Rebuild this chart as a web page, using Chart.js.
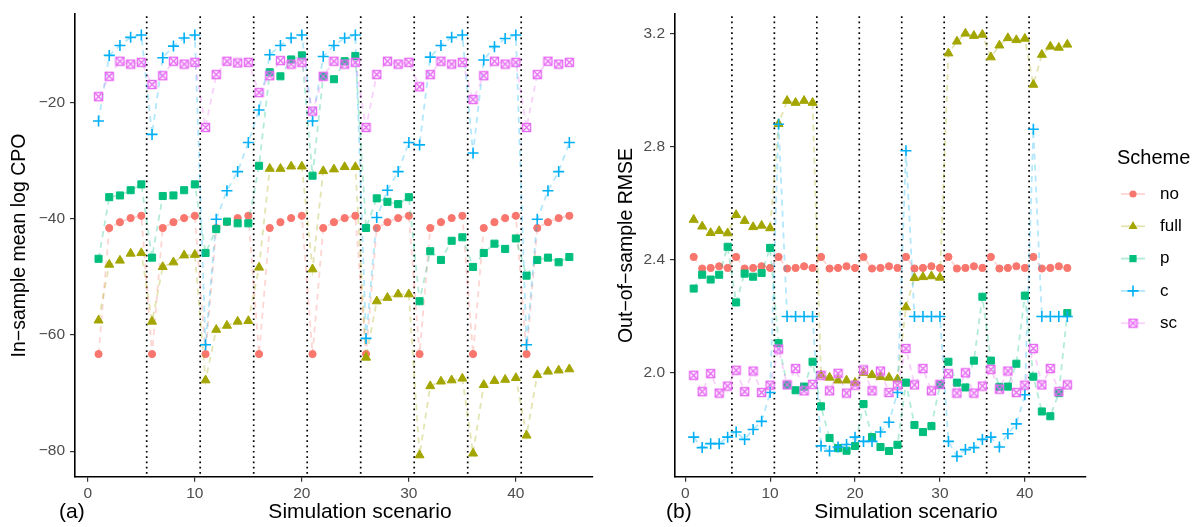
<!DOCTYPE html>
<html>
<head>
<meta charset="utf-8">
<script src="https://cdn.jsdelivr.net/npm/chart.js@4.4.0/dist/chart.umd.min.js"></script>
<style>
  body { margin: 0; background: #fff; }
  #wrap { position: relative; width: 1202px; height: 527px; }
  #left { position: absolute; left: 0; top: 0; }
  #right { position: absolute; left: 600px; top: 0; }
</style>
</head>
<body>
<div id="wrap">
  <canvas id="left" width="600" height="527"></canvas>
  <canvas id="right" width="602" height="527"></canvas>
</div>
<script>
// scenario numbers on the x axis
const scenarios = [1, 2, 3, 4, 5, 6, 7, 8, 9, 10, 11, 12, 13, 14, 15, 16, 17, 18, 19, 20,
  21, 22, 23, 24, 25, 26, 27, 28, 29, 30, 31, 32, 33, 34, 35, 36, 37, 38, 39, 40,
  41, 42, 43, 44, 45];
const schemes = ['no', 'full', 'p', 'c', 'sc'];
const schemeColors = ['#F8766D', '#A3A500', '#00BF7D', '#00B0F6', '#E76BF3'];
const xTicks = [0, 10, 20, 30, 40];
const cpoTicks = [-80, -60, -40, -20];
const rmseTicks = [2.0, 2.4, 2.8, 3.2];
const dividers = [5.5, 10.5, 15.5, 20.5, 25.5, 30.5, 35.5, 40.5];

// (a) in-sample mean log CPO
const cpoNo = [
  -63.3, -41.6, -40.6, -39.9, -39.5, -63.3, -41.6, -40.6, -39.9, -39.5,
  -63.3, -41.6, -40.6, -39.9, -39.5, -63.3, -41.6, -40.6, -39.9, -39.5,
  -63.3, -41.6, -40.6, -39.9, -39.5, -63.3, -41.6, -40.6, -39.9, -39.5,
  -63.3, -41.6, -40.6, -39.9, -39.5, -63.3, -41.6, -40.6, -39.9, -39.5,
  -63.3, -41.6, -40.6, -39.9, -39.5];
const cpoFull = [
  -57.5, -47.9, -47.2, -46.0, -45.9, -57.7, -48.3, -47.5, -46.3, -46.2,
  -67.8, -59.1, -58.4, -57.7, -57.6, -48.4, -31.4, -31.4, -31.0, -31.0,
  -48.7, -31.8, -31.5, -31.1, -31.1, -63.9, -54.2, -53.6, -53.0, -53.0,
  -80.7, -68.8, -68.0, -67.8, -67.5, -80.4, -68.6, -67.9, -67.7, -67.4,
  -77.3, -66.9, -66.3, -66.1, -65.9];
const cpoP = [
  -46.9, -36.3, -36.0, -35.1, -34.1, -46.7, -36.1, -36.0, -35.1, -34.1,
  -45.9, -41.8, -40.5, -40.8, -40.8, -30.9, -14.8, -15.5, -12.6, -11.9,
  -32.6, -15.5, -16.0, -12.9, -12.0, -41.6, -36.5, -37.1, -37.5, -36.3,
  -54.2, -45.6, -47.1, -43.8, -43.2, -48.3, -45.9, -44.3, -45.2, -43.4,
  -49.8, -47.1, -46.7, -47.5, -46.6];
const cpoC = [
  -23.2, -11.9, -10.2, -8.8, -8.4, -25.5, -12.3, -10.3, -8.9, -8.4,
  -61.7, -40.1, -35.2, -31.9, -26.9, -21.3, -11.8, -10.2, -8.9, -8.4,
  -23.2, -12.1, -10.2, -8.9, -8.4, -60.6, -39.8, -35.1, -31.9, -26.9,
  -27.3, -12.2, -10.2, -8.8, -8.4, -28.7, -12.7, -10.4, -9.0, -8.4,
  -61.7, -40.1, -35.2, -31.9, -26.9];
const cpoSc = [
  -19.0, -15.5, -12.9, -13.4, -13.1, -16.9, -15.4, -12.9, -13.4, -13.1,
  -24.3, -15.2, -12.9, -13.2, -13.1, -18.3, -15.4, -12.8, -13.4, -13.1,
  -21.5, -15.5, -12.9, -13.4, -13.1, -24.3, -15.2, -12.9, -13.4, -13.1,
  -17.3, -15.2, -12.9, -13.4, -13.1, -19.5, -15.4, -12.9, -13.4, -13.1,
  -24.3, -15.2, -12.9, -13.4, -13.1];

// (b) out-of-sample RMSE
const rmseNo = [
  2.411, 2.370, 2.372, 2.378, 2.372, 2.411, 2.370, 2.372, 2.378, 2.372,
  2.411, 2.370, 2.372, 2.378, 2.372, 2.411, 2.370, 2.372, 2.378, 2.372,
  2.411, 2.370, 2.372, 2.378, 2.372, 2.411, 2.370, 2.372, 2.378, 2.372,
  2.411, 2.370, 2.372, 2.378, 2.372, 2.411, 2.370, 2.372, 2.378, 2.372,
  2.411, 2.370, 2.372, 2.378, 2.372];
const rmseFull = [
  2.543, 2.519, 2.496, 2.503, 2.495, 2.560, 2.539, 2.517, 2.522, 2.513,
  2.882, 2.964, 2.957, 2.964, 2.957, 1.992, 1.984, 1.974, 1.974, 1.966,
  2.001, 1.993, 1.986, 1.984, 1.978, 2.233, 2.337, 2.340, 2.343, 2.338,
  3.132, 3.174, 3.202, 3.194, 3.198, 3.118, 3.160, 3.186, 3.179, 3.184,
  3.021, 3.127, 3.156, 3.152, 3.163];
const rmseP = [
  2.299, 2.348, 2.331, 2.348, 2.447, 2.250, 2.352, 2.341, 2.354, 2.443,
  2.106, 1.958, 1.939, 1.952, 2.040, 1.882, 1.770, 1.734, 1.725, 1.742,
  1.890, 1.773, 1.738, 1.724, 1.746, 1.966, 1.816, 1.791, 1.812, 1.958,
  2.040, 1.966, 1.949, 2.044, 2.270, 2.044, 1.951, 1.952, 2.033, 2.274,
  1.987, 1.864, 1.847, 1.929, 2.212];
const rmseC = [
  1.773, 1.736, 1.750, 1.750, 1.773, 1.791, 1.765, 1.800, 1.829, 1.931,
  2.881, 2.200, 2.200, 2.200, 2.200, 1.742, 1.724, 1.738, 1.747, 1.773,
  1.758, 1.758, 1.791, 1.826, 1.931, 2.787, 2.200, 2.200, 2.200, 2.200,
  1.758, 1.705, 1.729, 1.736, 1.765, 1.773, 1.738, 1.785, 1.820, 1.923,
  2.863, 2.200, 2.200, 2.200, 2.200];
const rmseSc = [
  1.992, 1.934, 1.998, 1.929, 1.954, 2.010, 1.934, 2.007, 1.931, 1.957,
  2.085, 1.958, 2.016, 1.937, 1.960, 1.992, 1.937, 1.999, 1.929, 1.957,
  2.011, 1.937, 2.007, 1.931, 1.957, 2.087, 1.958, 2.016, 1.937, 1.960,
  1.998, 1.929, 2.001, 1.929, 1.954, 2.013, 1.943, 2.007, 1.931, 1.957,
  2.087, 1.958, 2.016, 1.934, 1.958];

const FONT = '"Liberation Sans", Arial, Helvetica, sans-serif';
Chart.defaults.font.family = FONT;

// square with a cross inside (ggplot shape 7), not built into Chart.js
function squareCross(color) {
  const c = document.createElement('canvas');
  c.width = 11;
  c.height = 11;
  const g = c.getContext('2d');
  g.strokeStyle = color;
  g.lineWidth = 1.4;
  g.strokeRect(1.5, 1.5, 8, 8);
  g.beginPath();
  g.moveTo(1.5, 1.5); g.lineTo(9.5, 9.5);
  g.moveTo(9.5, 1.5); g.lineTo(1.5, 9.5);
  g.stroke();
  return c;
}

const markers = [
  { pointStyle: 'circle', radius: 3.6, borderWidth: 1 },
  { pointStyle: 'triangle', radius: 5.2, borderWidth: 1 },
  { pointStyle: 'rect', radius: 5, borderWidth: 1 },
  { pointStyle: 'cross', radius: 5.5, borderWidth: 1.6 },
  { pointStyle: squareCross(schemeColors[4]), radius: 5, borderWidth: 1 }
];

function fade(hex, a) {
  const n = parseInt(hex.slice(1), 16);
  return `rgba(${n >> 16}, ${(n >> 8) & 255}, ${n & 255}, ${a})`;
}

function makeDatasets(seriesList) {
  return seriesList.map((values, i) => ({
    label: schemes[i],
    data: values.map((v, j) => ({ x: scenarios[j], y: v })),
    showLine: true,
    borderColor: fade(schemeColors[i], 0.3),
    borderWidth: 1.8,
    borderDash: [6, 5],
    tension: 0,
    pointStyle: markers[i].pointStyle,
    pointRadius: markers[i].radius,
    pointBorderWidth: markers[i].borderWidth,
    pointBackgroundColor: schemeColors[i],
    pointBorderColor: schemeColors[i],
    order: 5 - i
  }));
}

// dotted separators between scenario groups, x title and panel tag
const panelDecor = {
  id: 'panelDecor',
  beforeDatasetsDraw(chart) {
    const { ctx, chartArea, scales } = chart;
    ctx.save();
    ctx.strokeStyle = '#000';
    ctx.lineWidth = 1.7;
    ctx.setLineDash([1.7, 3.6]);
    dividers.forEach(v => {
      const x = scales.x.getPixelForValue(v);
      ctx.beginPath();
      ctx.moveTo(x, chartArea.top + 2);
      ctx.lineTo(x, chartArea.bottom);
      ctx.stroke();
    });
    ctx.restore();
  },
  afterDraw(chart, args, opts) {
    const ctx = chart.ctx;
    ctx.save();
    ctx.fillStyle = '#000';
    ctx.textBaseline = 'alphabetic';
    ctx.font = '21px ' + FONT;
    ctx.textAlign = 'center';
    ctx.fillText(opts.title, opts.titleX, 518);
    ctx.textAlign = 'left';
    ctx.fillText(opts.tag, opts.tagX, 518);
    ctx.restore();
  }
};

function drawKey(ctx, i, x, y) {
  const col = schemeColors[i];
  ctx.save();
  ctx.strokeStyle = fade(col, 0.3);
  ctx.lineWidth = 1.8;
  ctx.beginPath();
  ctx.moveTo(x - 12, y);
  ctx.lineTo(x + 12, y);
  ctx.stroke();
  ctx.fillStyle = col;
  ctx.strokeStyle = col;
  ctx.beginPath();
  if (i === 0) {
    ctx.arc(x, y, 3.6, 0, Math.PI * 2);
    ctx.fill();
  } else if (i === 1) {
    const r = 5.2;
    ctx.moveTo(x, y - r);
    ctx.lineTo(x + r * Math.sin(Math.PI / 3), y + r / 2);
    ctx.lineTo(x - r * Math.sin(Math.PI / 3), y + r / 2);
    ctx.closePath();
    ctx.fill();
  } else if (i === 2) {
    ctx.fillRect(x - 3.6, y - 3.6, 7.2, 7.2);
  } else if (i === 3) {
    ctx.lineWidth = 1.6;
    ctx.moveTo(x - 5.5, y); ctx.lineTo(x + 5.5, y);
    ctx.moveTo(x, y - 5.5); ctx.lineTo(x, y + 5.5);
    ctx.stroke();
  } else {
    ctx.drawImage(markers[4].pointStyle, x - 5.5, y - 5.5);
  }
  ctx.restore();
}

const schemeLegend = {
  id: 'schemeLegend',
  afterDraw(chart, args, opts) {
    const ctx = chart.ctx;
    ctx.save();
    ctx.fillStyle = '#000';
    ctx.textBaseline = 'middle';
    ctx.textAlign = 'left';
    ctx.font = '20px ' + FONT;
    ctx.fillText('Scheme', opts.x, opts.titleY);
    ctx.font = '17px ' + FONT;
    schemes.forEach((s, i) => {
      const y = opts.firstY + i * opts.step;
      drawKey(ctx, i, opts.x + 16, y);
      ctx.fillStyle = '#000';
      ctx.fillText(s, opts.x + 43, y);
    });
    ctx.restore();
  }
};

function axisX() {
  return {
    type: 'linear',
    min: -1.2,
    max: 47.2,
    afterBuildTicks: axis => { axis.ticks = xTicks.map(v => ({ value: v })); },
    afterFit: axis => { axis.height = 50.3; },
    grid: { drawOnChartArea: false, drawTicks: true, tickLength: 5, color: '#333', lineWidth: 1.2 },
    border: { display: true, color: '#000', width: 1.6 },
    ticks: { color: '#4D4D4D', font: { size: 15.5 }, padding: 3, maxRotation: 0 }
  };
}

function axisY(min, max, tickVals, fmt, title, titlePad) {
  return {
    type: 'linear',
    min: min,
    max: max,
    afterBuildTicks: axis => { axis.ticks = tickVals.map(v => ({ value: v })); },
    afterFit: axis => { axis.width = 75; },
    grid: { drawOnChartArea: false, drawTicks: true, tickLength: 5, color: '#333', lineWidth: 1.2 },
    border: { display: true, color: '#000', width: 1.6 },
    ticks: { color: '#4D4D4D', font: { size: 15.5 }, padding: 5, callback: fmt },
    title: { display: true, text: title, color: '#000', font: { size: 19.5 }, padding: { top: titlePad, bottom: 0 } }
  };
}

new Chart(document.getElementById('left').getContext('2d'), {
  type: 'line',
  data: { datasets: makeDatasets([cpoNo, cpoFull, cpoP, cpoC, cpoSc]) },
  options: {
    responsive: false,
    animation: false,
    layout: { padding: { left: 0, right: 3, top: 10, bottom: 0 } },
    scales: {
      x: axisX(),
      y: axisY(-84.4, -4.83, cpoTicks, v => String(v).replace('-', '\u2212'), 'In\u2212sample mean log CPO', 8)
    },
    plugins: {
      legend: { display: false },
      tooltip: { enabled: false },
      panelDecor: { title: 'Simulation scenario', titleX: 360, tag: '(a)', tagX: 59 }
    }
  },
  plugins: [panelDecor]
});

new Chart(document.getElementById('right').getContext('2d'), {
  type: 'line',
  data: { datasets: makeDatasets([rmseNo, rmseFull, rmseP, rmseC, rmseSc]) },
  options: {
    responsive: false,
    animation: false,
    layout: { padding: { left: 0, right: 116, top: 10, bottom: 0 } },
    scales: {
      x: axisX(),
      y: axisY(1.633, 3.27, rmseTicks, v => v.toFixed(1), 'Out\u2212of\u2212sample RMSE', 15)
    },
    plugins: {
      legend: { display: false },
      tooltip: { enabled: false },
      panelDecor: { title: 'Simulation scenario', titleX: 306, tag: '(b)', tagX: 66 },
      schemeLegend: { x: 517, titleY: 158, firstY: 194, step: 32.3 }
    }
  },
  plugins: [panelDecor, schemeLegend]
});
</script>
</body>
</html>
